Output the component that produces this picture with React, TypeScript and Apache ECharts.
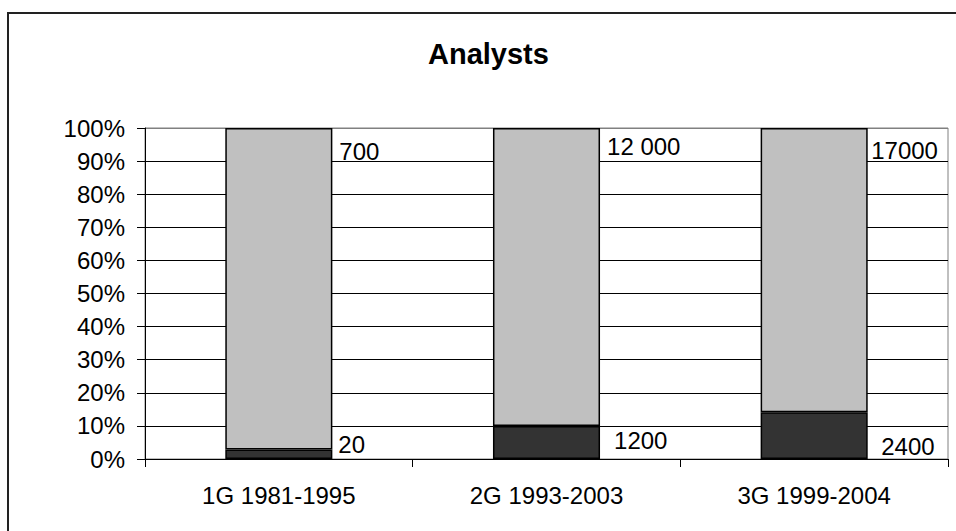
import React, { useEffect, useRef } from "react";
import * as echarts from "echarts";

const categories = ["1G 1981-1995", "2G 1993-2003", "3G 1999-2004"];
const totalAnalysts = [700, 12000, 17000];
const earlyAnalysts = [20, 1200, 2400];
const totalLabels = ["700", "12 000", "17000"];
const earlyLabels = ["20", "1200", "2400"];
const yTickValues = [0, 10, 20, 30, 40, 50, 60, 70, 80, 90, 100];

// label layout (style, not data)
const lightLabelOffsets = [
  [7, 23],
  [7, 18.5],
  [3.5, 22],
];
const darkLabelOffsets = [
  [6, -14.5],
  [14, -19],
  [13.5, -12.5],
];

const FONT = "'Liberation Sans', Arial, sans-serif";
const FS = 24;

export default function App() {
  const ref = useRef<HTMLDivElement>(null);

  useEffect(() => {
    if (!ref.current) return;
    const chart = echarts.init(ref.current, null, { renderer: "svg" });

    const darkPct = earlyAnalysts.map((v, i) => (v / totalAnalysts[i]) * 100);
    const lightPct = darkPct.map((d) => 100 - d);

    const labelBase = {
      show: true,
      color: "#000",
      fontSize: FS,
      fontFamily: FONT,
      align: "left",
      verticalAlign: "middle",
    };

    const splitColors = yTickValues.map((v) => (v === 100 ? "#808080" : "#000"));

    chart.setOption({
      animation: false,
      backgroundColor: "#fff",
      title: {
        text: "Analysts",
        left: 423,
        top: 34,
        textStyle: {
          fontSize: 29,
          fontWeight: "bold",
          fontFamily: FONT,
          color: "#000",
        },
      },
      graphic: [
        {
          type: "rect",
          shape: { x: 8, y: 13, width: 1000, height: 600 },
          style: { fill: "none", stroke: "#222", lineWidth: 2 },
          silent: true,
        },
      ],
      grid: {
        left: 145,
        right: 8,
        top: 128,
        bottom: 72,
        show: true,
        borderColor: "#808080",
        borderWidth: 1,
        backgroundColor: "transparent",
      },
      xAxis: {
        type: "category",
        data: categories,
        axisLine: { show: true, lineStyle: { color: "#000", width: 1 } },
        axisTick: {
          show: true,
          alignWithLabel: false,
          length: 8,
          lineStyle: { color: "#000" },
        },
        axisLabel: {
          color: "#000",
          fontSize: FS,
          fontFamily: FONT,
          margin: 24,
        },
        splitLine: { show: false },
      },
      yAxis: {
        type: "value",
        min: 0,
        max: 100,
        interval: 10,
        axisLine: { show: true, lineStyle: { color: "#000", width: 1 } },
        axisTick: { show: true, length: 8, lineStyle: { color: "#000" } },
        axisLabel: {
          color: "#000",
          fontSize: FS,
          fontFamily: FONT,
          margin: 20,
          formatter: "{value}%",
        },
        splitLine: {
          show: true,
          lineStyle: { color: splitColors, width: 1 },
        },
      },
      series: [
        {
          name: "early",
          type: "bar",
          stack: "total",
          barWidth: "40%",
          data: darkPct.map((v, i) => ({
            value: v,
            label: {
              ...labelBase,
              position: ["100%", "100%"],
              offset: darkLabelOffsets[i],
              formatter: earlyLabels[i],
            },
          })),
          itemStyle: { color: "#333333", borderColor: "#000", borderWidth: 1.5 },
        },
        {
          name: "total",
          type: "bar",
          stack: "total",
          barWidth: "40%",
          data: lightPct.map((v, i) => ({
            value: v,
            label: {
              ...labelBase,
              position: ["100%", 0],
              offset: lightLabelOffsets[i],
              formatter: totalLabels[i],
            },
          })),
          itemStyle: { color: "#C0C0C0", borderColor: "#000", borderWidth: 1.5 },
        },
      ],
    });

    return () => chart.dispose();
  }, []);

  return (
    <div
      ref={ref}
      style={{ position: "absolute", left: 0, top: 0, width: 956, height: 531 }}
    />
  );
}
